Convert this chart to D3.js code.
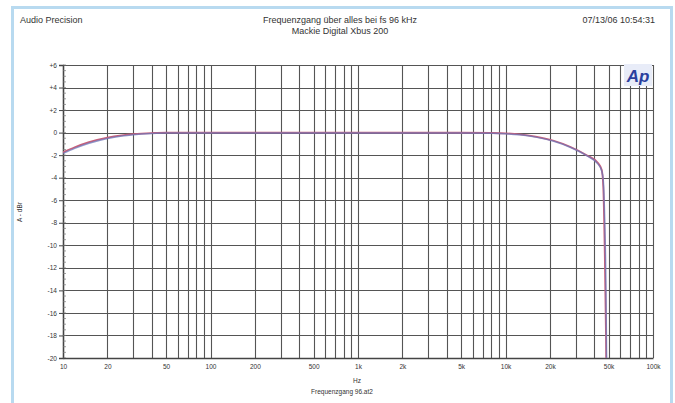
<html lang="de">
<head>
  <meta charset="UTF-8"/>
  <title>Frequenzgang</title>
  <script src="https://d3js.org/d3.v7.min.js"></script>
  <style>
    body { margin: 0; background: #ffffff; }
    text { font-family: "Liberation Sans", Arial, sans-serif; fill: #333; }
  </style>
</head>
<body>
<svg id="chart"></svg>
<script>
// frequency points (Hz) and level (dBr A) for both channels
const freqs   = [10, 12, 15, 20, 25, 30, 40, 50, 100, 1000, 5000, 8000, 10000, 12500, 16000, 21000, 27400, 35500, 42400, 44900, 46000, 47000, 48000, 48600];
const leftDb  = [-1.75, -1.3, -0.85, -0.45, -0.25, -0.14, -0.04, 0, 0, 0, -0.01, -0.03, -0.06, -0.15, -0.35, -0.7, -1.25, -2.0, -2.7, -3.3, -4.8, -10, -18, -26];
const rightDb = [-1.85, -1.4, -0.95, -0.52, -0.3, -0.18, -0.07, -0.03, -0.03, -0.03, -0.04, -0.06, -0.1, -0.2, -0.4, -0.75, -1.3, -2.05, -2.8, -3.4, -4.2, -7.5, -14, -22];
const yTicks  = [6, 4, 2, 0, -2, -4, -6, -8, -10, -12, -14, -16, -18, -20];
const xLabels = [10, 20, 50, 100, 200, 500, 1000, 2000, 5000, 10000, 20000, 50000, 100000];

const W = 675, H = 403;
const pL = 63, pR = 653, pT = 65, pB = 358;

const svg = d3.select("#chart").attr("width", W).attr("height", H);

// light blue frame
svg.append("path")
  .attr("d", "M12.5,403 L12.5,7.5 L671.5,7.5 L671.5,403")
  .attr("fill", "none").attr("stroke", "#b8daf0").attr("stroke-width", 3);

const x = d3.scaleLog().domain([10, 100000]).range([pL, pR]);
const y = d3.scaleLinear().domain([-20, 6]).range([pB, pT]);

// header
svg.append("text").attr("x", 20).attr("y", 23).attr("font-size", 9).text("Audio Precision");
svg.append("text").attr("x", 340).attr("y", 23).attr("font-size", 9).attr("text-anchor", "middle")
  .text("Frequenzgang über alles bei fs 96 kHz");
svg.append("text").attr("x", 340).attr("y", 34).attr("font-size", 9).attr("text-anchor", "middle")
  .text("Mackie Digital Xbus 200");
svg.append("text").attr("x", 655).attr("y", 23).attr("font-size", 9).attr("text-anchor", "end")
  .text("07/13/06 10:54:31");

// vertical grid: 1..9 per decade
const gridF = [];
for (let d = 10; d < 100000; d *= 10) for (let m = 1; m < 10; m++) gridF.push(d * m);
gridF.push(100000);
svg.append("g").selectAll("line").data(gridF).join("line")
  .attr("x1", d => Math.round(x(d)) + 0.5).attr("x2", d => Math.round(x(d)) + 0.5)
  .attr("y1", pT).attr("y2", pB)
  .attr("stroke", "#555").attr("stroke-width", 1.1);

// horizontal grid
svg.append("g").selectAll("line").data(yTicks).join("line")
  .attr("x1", pL).attr("x2", pR)
  .attr("y1", d => Math.round(y(d)) + 0.5).attr("y2", d => Math.round(y(d)) + 0.5)
  .attr("stroke", "#555").attr("stroke-width", 1.1);

// y axis with minor ticks
const yAxis = d3.axisLeft(y).tickValues(yTicks).tickSize(4).tickPadding(2)
  .tickFormat(d => d > 0 ? "+" + d : d);
const ya = svg.append("g").attr("transform", `translate(${pL},0)`).call(yAxis);
ya.select(".domain").attr("stroke", "#444").attr("stroke-width", 1.5);
ya.selectAll(".tick line").attr("stroke", "#444");
ya.selectAll("text").attr("font-size", 6.5).attr("fill", "#333");
svg.append("g").selectAll("line").data(d3.range(-20, 6.01, 0.5)).join("line")
  .attr("x1", pL).attr("x2", pL + 3)
  .attr("y1", d => y(d)).attr("y2", d => y(d))
  .attr("stroke", "#777").attr("stroke-width", 0.7);

// x axis labels
const xAxis = d3.axisBottom(x).tickValues(xLabels).tickSize(0).tickPadding(6)
  .tickFormat(d => d >= 1000 ? (d / 1000) + "k" : d);
const xa = svg.append("g").attr("transform", `translate(0,${pB})`).call(xAxis);
xa.select(".domain").attr("stroke", "#444").attr("stroke-width", 1.5);
xa.selectAll("text").attr("font-size", 6.5).attr("fill", "#333");

// axis titles
svg.append("text").attr("x", 357).attr("y", 383).attr("font-size", 6.5).attr("text-anchor", "middle").text("Hz");
svg.append("text").attr("x", 342).attr("y", 394).attr("font-size", 6.5).attr("text-anchor", "middle").text("Frequenzgang 96.at2");
svg.append("text").attr("transform", "translate(22,212) rotate(-90)").attr("font-size", 6.5)
  .attr("text-anchor", "middle").text("A   -   dBr");

// Ap logo
svg.append("rect").attr("x", 624).attr("y", 64).attr("width", 28).attr("height", 22).attr("fill", "#e8ecf8");
svg.append("text").attr("x", 638).attr("y", 82).attr("font-size", 17).attr("font-weight", "bold")
  .attr("font-style", "italic").attr("text-anchor", "middle").style("fill", "#2a3f9e").text("Ap");

// curves
svg.append("clipPath").attr("id", "plot").append("rect")
  .attr("x", pL).attr("y", pT).attr("width", pR - pL).attr("height", pB - pT);
const line = vals => d3.line().x((d, i) => x(freqs[i])).y(d => y(d)).curve(d3.curveMonotoneX)(vals);
const curves = svg.append("g").attr("clip-path", "url(#plot)");
curves.append("path").attr("d", line(leftDb)).attr("fill", "none")
  .attr("stroke", "#c8607a").attr("stroke-width", 1.8);
curves.append("path").attr("d", line(rightDb)).attr("fill", "none")
  .attr("stroke", "#6c76b8").attr("stroke-width", 1.5).attr("stroke-opacity", 0.75);
</script>
</body>
</html>
